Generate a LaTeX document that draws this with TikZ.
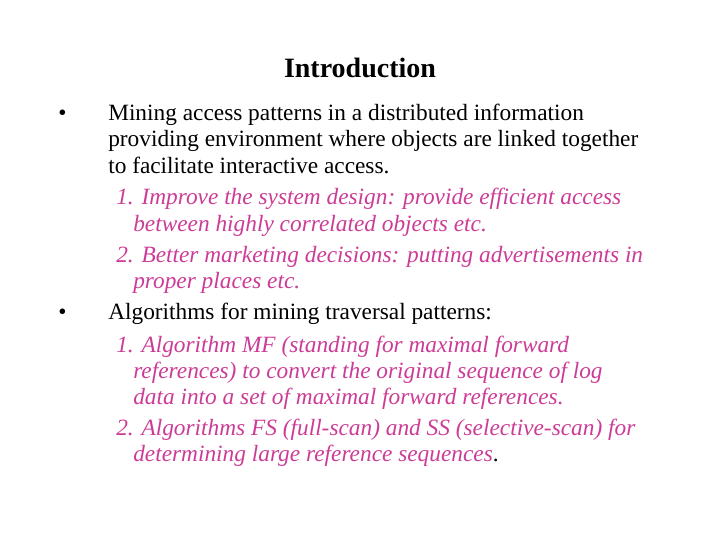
\documentclass[tikz,border=0pt]{standalone}
\usepackage{fontspec}
\setmainfont{Liberation Serif}
\definecolor{pinkt}{RGB}{204,60,150}
\begin{document}
\begin{tikzpicture}[x=0.75pt,y=-0.75pt,
  tl/.style={anchor=base west,inner sep=0pt,font=\fontsize{17.5}{20}\selectfont},
  pl/.style={tl,text=pinkt,font=\fontsize{17.5}{20}\selectfont\itshape}]
\useasboundingbox (0,0) rectangle (720,540);
\node[anchor=base,inner sep=0pt,font=\fontsize{21}{24}\selectfont\bfseries] (title) at (360,77) {Introduction};
\node[tl] (b1) at (58,120) {•};
\node[tl] (l1) at (108,120) {Mining access patterns in a distributed information};
\node[tl] (l2) at (108,146) {providing environment where objects are linked together};
\node[tl] (l3) at (108,173) {to facilitate interactive access.};
\node[pl] (p1) at (116,204) {1. Improve the system design: provide efficient access};
\node[pl] (p2) at (133,231) {between highly correlated objects etc.};
\node[pl] (p3) at (116,262) {2. Better marketing decisions: putting advertisements in};
\node[pl] (p4) at (133,288) {proper places etc.};
\node[tl] (b2) at (58,319) {•};
\node[tl] (l4) at (108,319) {Algorithms for mining traversal patterns:};
\node[pl] (p5) at (116,352) {1. Algorithm MF (standing for maximal forward};
\node[pl] (p6) at (133,378) {references) to convert the original sequence of log};
\node[pl] (p7) at (133,404) {data into a set of maximal forward references.};
\node[pl] (p8) at (116,435) {2. Algorithms FS (full-scan) and SS (selective-scan) for};
\node[pl] (p9) at (133,461) {determining large reference sequences\textcolor{black}{\upshape .}};
\end{tikzpicture}
\end{document}
